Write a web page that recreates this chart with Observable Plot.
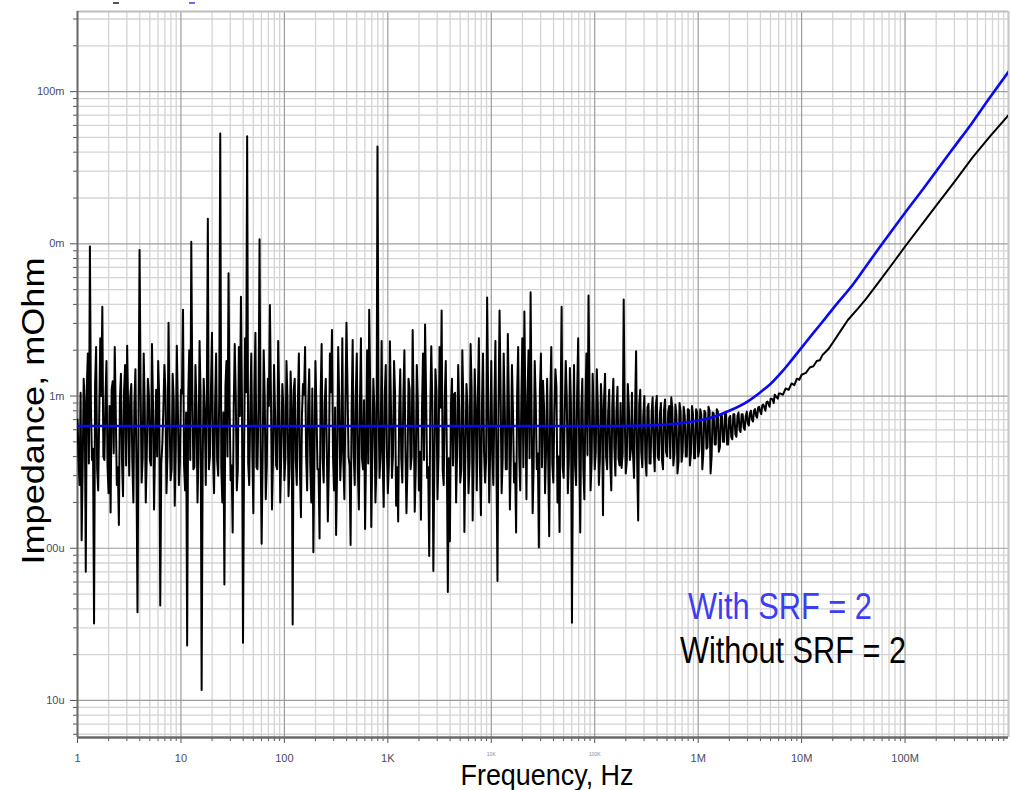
<!DOCTYPE html>
<html><head><meta charset="utf-8">
<script src="https://cdn.jsdelivr.net/npm/d3@7"></script>
<script src="https://cdn.jsdelivr.net/npm/@observablehq/plot@0.6"></script>
<style>
body{margin:0;background:#fff;}
#wrap{position:relative;width:1011px;height:790px;overflow:hidden;background:#fff;}
</style></head><body><div id="wrap"></div>
<script>
// ---- tick labels ----
const xTickValues = [1, 10, 100, 1e3, 1e4, 1e5, 1e6, 1e7, 1e8];
const xTickLabels = ["1", "10", "100", "1K", "10K", "100K", "1M", "10M", "100M"];
const yTickValues = [1e-5, 1e-4, 1e-3, 1e-2, 1e-1];
const yTickLabels = ["10u", "00u", "1m", "0m", "100m"];
const xDomain = [1, 1e9];
const yDomain = [5.71e-6, 0.336];

// ---- "Without SRF = 2": measured noisy trace in µΩ, 100 samples per decade from 1 Hz.
// Even samples (excursions) and odd samples (body of the band) are listed separately.
const samplesPerDecade = 100;
const withoutEvenMicroOhm = [
  // 1 Hz – 10 Hz
  700,260,113,1300,70,1900,9600,380,32,2100,240,2400,3860,380,1700,230,172,1250,2100,260,
  142,1400,220,1600,2140,300,1200,200,1500,38,9100,270,1900,200,1300,380,2200,180,1100,1700,
  42,480,1600,230,3030,280,1400,190,2140,260,
  // 10 Hz – 100 Hz
  1100,3690,240,23,2000,10300,330,1600,200,2300,11.7,1300,260,14600,400,2600,230,1900,300,53000,
  200,57.7,1700,6400,280,127,2200,240,2100,4490,23.9,2400,50900,260,1900,170,2600,330,10700,107,
  2000,210,1300,3970,180,1600,350,2300,200,1200,
  // 100 Hz – 1 kHz
  280,1700,220,1450,31.6,1300,260,1900,160,1200,2100,240,1500,200,94,1700,330,116,2200,270,
  1300,150,1900,2720,240,122,2100,280,2400,210,3030,400,105,2330,260,1900,180,2400,330,134,
  2000,3690,138,1300,200,43600,290,2300,187,1600,
  // 1 kHz – 10 kHz
  230,2290,290,1700,190,150,1500,270,2000,170,1300,330,2720,174,1600,240,154,1900,2950,290,
  89,2120,71,1500,210,2100,3650,260,1700,51.6,111,1300,1030,200,1600,270,2000,128,1200,230,
  2200,152,1500,240,2400,165,1900,270,4440,200,
  // 10 kHz – 100 kHz
  1700,260,2300,61,3650,230,1900,330,2560,180,1600,270,127,2100,240,2400,3590,210,2000,4800,
  170,1700,330,101,1900,1260,230,1300,120,2100,270,1500,200,128,3860,290,1700,230,1530,32.4,
  1600,260,2400,127,1300,210,1900,4570,240,1400,
  // 100 kHz – 1 MHz
  330,1500,260,1200,165,1400,330,1100,240,1300,300,1150,350,337,4310,310,1200,380,1050,290,
  1970,152,1100,340,1000,300,886,360,980,320,1000,380,900,330,950,400,860,980,350,880,
  310,900,370,850,400,820,350,860,390,820,
  // 1 MHz – 6.3 MHz
  400,820,330,800,450,850,310,780,480,820,430,760,500,780,480,720,540,760,560,740,
  600,760,620,740,660,770,700,800,740,840,790,870,840,910,890,960,950,1020,980,1040
];
const withoutOddMicroOhm = [
  // 1 Hz – 10 Hz
  380,1050,340,900,1150,360,820,450,1200,330,760,1000,400,940,350,860,1100,420,780,340,
  960,380,1080,350,820,990,370,900,330,760,1150,390,870,420,1020,350,880,480,400,980,
  360,820,1100,410,760,330,950,440,860,370,
  // 10 Hz – 100 Hz
  1040,350,780,960,380,1120,340,860,430,1000,360,800,920,330,1080,420,870,380,980,340,
  780,1160,400,880,350,830,1020,330,740,930,380,1060,360,810,430,1140,340,890,460,400,
  980,350,860,1050,380,770,330,960,420,850,
  // 100 Hz – 1 kHz
  390,950,340,800,1100,380,880,330,760,1020,410,860,350,1120,420,810,330,970,380,910,
  450,350,1060,400,840,340,950,440,370,890,1160,350,800,420,1000,330,860,390,940,460,
  360,1080,410,820,340,900,440,380,1010,470,
  // 1 kHz – 10 kHz
  350,880,420,1040,340,810,390,970,450,350,1110,400,850,330,920,430,800,380,1010,340,
  780,900,360,1070,410,840,330,950,440,390,880,350,1050,430,800,330,910,410,850,370,
  1130,400,780,950,340,860,430,380,1000,460,
  // 10 kHz – 100 kHz
  410,900,350,810,1100,380,860,330,950,440,780,360,1040,410,880,340,800,990,390,760,
  360,920,420,1080,340,850,450,390,950,360,810,1150,400,860,340,760,970,380,900,430,
  350,1050,440,810,330,890,410,1000,370,800,
  // 100 kHz – 1 MHz
  430,880,380,800,950,400,780,360,860,450,790,390,900,420,760,370,850,450,420,820,
  370,880,430,750,390,840,360,780,440,850,400,760,380,810,430,780,390,830,420,750,
  370,790,430,740,400,810,420,760,390,780,
  // 1 MHz – 6.3 MHz
  440,760,420,780,460,800,400,770,480,790,460,740,500,760,480,740,520,760,540,780,
  580,760,600,790,640,800,680,820,720,850,760,880,800,920,850,960,900,1000,960,1040
];
// inductive tail of the same trace (small wiggles up to ~20 MHz)
const withoutTailFreq = [6.6e6, 7e6, 7.5e6, 8e6, 8.5e6, 9e6, 9.5e6, 1e7, 1.1e7, 1.2e7, 1.3e7, 1.4e7, 1.5e7, 1.6e7, 1.8e7, 2e7, 2.4e7, 2.8e7, 3.5e7, 4.2e7, 6e7, 8e7, 1e8, 1.5e8, 2e8, 3e8, 4.5e8, 6.5e8, 1e9];
const withoutTailOhm  = [1.02e-3, 1.12e-3, 1.10e-3, 1.21e-3, 1.18e-3, 1.30e-3, 1.28e-3, 1.38e-3, 1.42e-3, 1.54e-3, 1.57e-3, 1.70e-3, 1.72e-3, 1.87e-3, 2.02e-3, 2.24e-3, 2.7e-3, 3.16e-3, 3.75e-3, 4.35e-3, 6.0e-3, 7.8e-3, 9.6e-3, 1.38e-2, 1.78e-2, 2.55e-2, 3.7e-2, 5.0e-2, 7.0e-2];

// ---- "With SRF = 2": smooth model curve ----
const withFreq = [1, 1e5, 3e5, 5e5, 7e5, 1e6, 1.5e6, 2e6, 3e6, 4e6, 5e6, 6.5e6, 8e6, 1e7, 1.3e7, 1.7e7, 2.2e7, 3e7, 4e7, 5.5e7, 7.5e7, 1e8, 1.5e8, 2e8, 3e8, 4.5e8, 6.5e8, 1e9];
const withOhm  = [6.35e-4, 6.35e-4, 6.4e-4, 6.5e-4, 6.65e-4, 6.9e-4, 7.4e-4, 8.0e-4, 9.2e-4, 1.06e-3, 1.2e-3, 1.45e-3, 1.72e-3, 2.08e-3, 2.6e-3, 3.25e-3, 4.05e-3, 5.2e-3, 6.8e-3, 9.2e-3, 1.23e-2, 1.6e-2, 2.3e-2, 3.0e-2, 4.35e-2, 6.3e-2, 9.0e-2, 1.35e-1];

// ---- build tables ----
const withoutData = [];
withoutEvenMicroOhm.forEach((v, i) => {
  withoutData.push({f: Math.pow(10, (2 * i) / samplesPerDecade), z: v * 1e-6});
  withoutData.push({f: Math.pow(10, (2 * i + 1) / samplesPerDecade), z: withoutOddMicroOhm[i] * 1e-6});
});
withoutTailFreq.forEach((f, i) => withoutData.push({f, z: withoutTailOhm[i]}));
const withData = withFreq.map((f, i) => ({f, z: withOhm[i]}));

const minorX = [], minorY = [];
for (let e = 0; e < 9; e++) for (let k = 2; k <= 9; k++) minorX.push(k * Math.pow(10, e));
for (let e = -6; e < 0; e++) for (let k = 2; k <= 9; k++) {
  const v = k * Math.pow(10, e);
  if (v >= yDomain[0] && v <= yDomain[1]) minorY.push(v);
}
const majorX = xTickValues.concat([1e9]);
const bigX = [1, 10, 100, 1e3, 1e6, 1e7, 1e8];
const tinyX = [1e4, 1e5];
const lab = (vals, labels) => d => { const i = vals.findIndex(v => Math.abs(v - d) / d < 1e-9); return i >= 0 ? labels[i] : ""; };
const labelColor = "#4a4a66";

const chart = Plot.plot({
  width: 1011, height: 790,
  marginLeft: 77, marginTop: 11, marginRight: 3, marginBottom: 53,
  style: {fontFamily: "'Liberation Sans', Arial, sans-serif", background: "#fff"},
  x: {type: "log", domain: xDomain},
  y: {type: "log", domain: yDomain},
  marks: [
    Plot.gridX(minorX, {stroke: "#d4d4d4", strokeOpacity: 1, strokeWidth: 1.3}),
    Plot.gridY(minorY, {stroke: "#d4d4d4", strokeOpacity: 1, strokeWidth: 1.3}),
    Plot.gridX(majorX, {stroke: "#9c9c9c", strokeOpacity: 1, strokeWidth: 1.2}),
    Plot.gridY(yTickValues, {stroke: "#9c9c9c", strokeOpacity: 1, strokeWidth: 1.2}),
    Plot.axisX(minorX, {tickSize: 4, tickFormat: () => "", stroke: "#555", label: null}),
    Plot.axisX(bigX, {tickSize: 6, tickPadding: 11, tickFormat: lab(xTickValues, xTickLabels), fontSize: 11, fill: labelColor, stroke: "#555", label: null}),
    Plot.axisX(tinyX, {tickSize: 6, tickPadding: 9, tickFormat: lab(xTickValues, xTickLabels), fontSize: 5, fill: "#8a8aa0", stroke: "#555", label: null}),
    Plot.axisY(minorY, {tickSize: 4, tickFormat: () => "", stroke: "#555", label: null}),
    Plot.axisY(yTickValues, {tickSize: 7, tickPadding: 6, tickFormat: lab(yTickValues, yTickLabels), fontSize: 11, fill: labelColor, stroke: "#555", label: null}),
    Plot.ruleY([yDomain[1]], {stroke: "#bdbdbd", strokeWidth: 2}),
    Plot.ruleX([xDomain[1]], {stroke: "#c8c8c8", strokeWidth: 2}),
    Plot.ruleX([xDomain[0]], {stroke: "#6a6a6a", strokeWidth: 2}),
    Plot.ruleY([yDomain[0]], {stroke: "#6a6a6a", strokeWidth: 2.5}),
    Plot.line(withoutData, {x: "f", y: "z", stroke: "#000", strokeWidth: 2, clip: true}),
    Plot.line(withData, {x: "f", y: "z", stroke: "#0a0af2", strokeWidth: 2.6, curve: "monotone-x", clip: true})
  ]
});
document.getElementById("wrap").appendChild(chart);

const svg = d3.select(chart);
const fam = "'Liberation Sans', Arial, sans-serif";
svg.append("text").attr("x", 547).attr("y", 785).attr("text-anchor", "middle")
  .attr("font-family", fam).attr("font-size", 30).attr("textLength", 173).attr("lengthAdjust", "spacingAndGlyphs")
  .attr("fill", "#000").text("Frequency, Hz");
svg.append("text").attr("transform", "translate(44,411) rotate(-90)").attr("text-anchor", "middle")
  .attr("font-family", fam).attr("font-size", 31).attr("textLength", 307).attr("lengthAdjust", "spacingAndGlyphs")
  .attr("fill", "#000").text("Impedance, mOhm");
svg.append("text").attr("x", 688).attr("y", 619).attr("text-anchor", "start")
  .attr("font-family", fam).attr("font-size", 36).attr("textLength", 184).attr("lengthAdjust", "spacingAndGlyphs")
  .attr("fill", "#3d3df2").text("With SRF = 2");
svg.append("text").attr("x", 680).attr("y", 663).attr("text-anchor", "start")
  .attr("font-family", fam).attr("font-size", 36).attr("textLength", 226).attr("lengthAdjust", "spacingAndGlyphs")
  .attr("fill", "#000").text("Without SRF = 2");
svg.append("rect").attr("x", 113).attr("y", 2).attr("width", 6).attr("height", 2).attr("fill", "#555");
svg.append("rect").attr("x", 189).attr("y", 2).attr("width", 6).attr("height", 2).attr("fill", "#6a6aff");
</script>
</body></html>
